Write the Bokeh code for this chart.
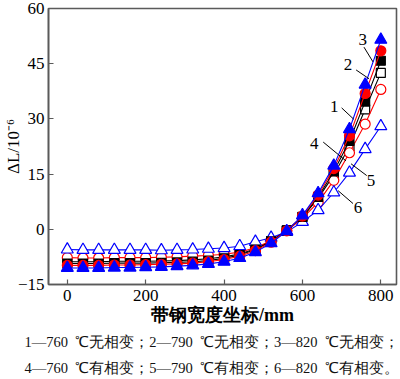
from bokeh.plotting import figure
from bokeh.embed import file_html
from bokeh.resources import INLINE
from bokeh.models import FixedTicker, Range1d, Title
from bokeh.core.properties import value

x_vals = [0, 40, 80, 120, 160, 200, 240, 280, 320, 360, 400,
          440, 480, 520, 560, 600, 640, 680, 720, 760, 800]

s1_760_none = [-9.3, -9.3, -9.3, -9.2, -9.2, -9.2, -9.1, -9.0, -8.8, -8.5, -7.9,
               -7.0, -5.5, -3.3, -0.3, 3.4, 8.8, 15.7, 24.0, 34.7, 45.8]
s2_790_none = [-9.8, -9.8, -9.8, -9.7, -9.7, -9.6, -9.5, -9.4, -9.2, -8.8, -8.2,
               -7.3, -5.8, -3.5, -0.4, 3.6, 9.3, 16.5, 25.4, 36.9, 48.5]
s3_820_none = [-10.5, -10.5, -10.5, -10.4, -10.4, -10.3, -10.2, -10.0, -9.8, -9.4, -8.8,
               -7.8, -6.2, -3.8, -0.5, 3.8, 9.8, 17.3, 27.2, 39.3, 51.5]
s4_760_phase = [-8.8, -8.8, -8.8, -8.7, -8.7, -8.7, -8.6, -8.5, -8.3, -8.0, -7.5,
                -6.7, -5.3, -3.2, -0.3, 3.3, 8.4, 14.8, 22.5, 32.6, 42.5]
s5_790_phase = [-7.7, -7.8, -7.8, -7.7, -7.7, -7.7, -7.6, -7.5, -7.3, -7.1, -6.8,
                -6.2, -5.0, -3.1, -0.4, 3.0, 7.3, 13.3, 20.8, 28.6, 38.0]
s6_820_phase = [-5.5, -5.6, -5.6, -5.6, -5.6, -5.6, -5.7, -5.6, -5.5, -5.3, -5.1,
                -4.6, -3.4, -2.3, -0.7, 2.0, 5.2, 10.0, 15.4, 21.8, 28.0]

x_ticks = [0, 200, 400, 600, 800]
y_ticks = [-15, 0, 15, 30, 45, 60]

curve_labels = ["1", "2", "3", "4", "5", "6"]
label_x = [681, 716, 754, 630, 775, 742]
label_y = [33.4, 44.9, 51.7, 23.4, 13.2, 6.0]
leader_x0 = [700, 737, 757, 653, 764, 729]
leader_y0 = [33.0, 43.3, 49.5, 23.7, 14.6, 7.0]
leader_x1 = [731, 770, 780, 711, 724, 691]
leader_y1 = [29.9, 40.9, 45.5, 18.6, 17.8, 10.5]

caption_1 = "1—760\u2002℃无相变；2—790\u2002℃无相变；3—820\u2002℃无相变；"
caption_2 = "4—760\u2002℃有相变；5—790\u2002℃有相变；6—820\u2002℃有相变。"

SERIF = "Liberation Serif"
FRAME = "#5a5a5a"

W, H = 400, 379
x0, x1 = -48, 840
y0, y1 = -15, 60

p = figure(width=W, height=H, output_backend="svg", toolbar_location=None,
           x_range=Range1d(x0, x1), y_range=Range1d(y0, y1),
           min_border_left=46, min_border_right=4,
           min_border_top=8, min_border_bottom=0)
p.grid.visible = False
p.outline_line_color = FRAME
p.outline_line_width = 1.6
p.background_fill_color = "white"
p.border_fill_color = "white"

for ax in (p.xaxis[0], p.yaxis[0]):
    ax.axis_line_color = FRAME
    ax.axis_line_width = 1.6
    ax.major_tick_line_color = FRAME
    ax.major_tick_line_width = 1.2
    ax.major_tick_in = 5
    ax.major_tick_out = 0
    ax.minor_tick_line_color = None
    ax.major_label_text_font = SERIF
    ax.major_label_text_font_size = "17px"
    ax.major_label_text_color = "black"

p.xaxis.ticker = FixedTicker(ticks=x_ticks)
p.yaxis.ticker = FixedTicker(ticks=y_ticks)
p.yaxis.major_label_overrides = {t: (str(t).replace("-", "\u2212")) for t in y_ticks}
p.xaxis.major_label_standoff = 5
p.yaxis.major_label_standoff = 4

p.xaxis.axis_label = "带钢宽度坐标/mm"
p.xaxis.axis_label_text_font = SERIF
p.xaxis.axis_label_text_font_style = "bold"
p.xaxis.axis_label_text_font_size = "18px"
p.xaxis.axis_label_standoff = 1
p.xaxis.axis_label_text_color = "black"

p.yaxis.axis_label = "ΔL/10⁻⁶"
p.yaxis.axis_label_text_font = SERIF
p.yaxis.axis_label_text_font_style = "normal"
p.yaxis.axis_label_text_font_size = "17px"
p.yaxis.axis_label_standoff = -8
p.yaxis.axis_label_text_color = "black"

BLUE, RED, BLACK = "#0000ff", "#ff0000", "#000000"

series = [
    (s4_760_phase, BLACK, "square", 9, False),
    (s5_790_phase, RED, "circle", 10, False),
    (s6_820_phase, BLUE, "triangle", 12, False),
    (s1_760_none, BLACK, "square", 9, True),
    (s2_790_none, RED, "circle", 10, True),
    (s3_820_none, BLUE, "triangle", 12, True),
]
for ys, col, mk, sz, filled in series:
    p.line(x_vals, ys, line_color=col, line_width=1.1)
    p.scatter(x_vals, ys, marker=mk, size=sz, line_color=col, line_width=1.2,
              fill_color=col if filled else "white")

p.segment(x0=leader_x0, y0=leader_y0, x1=leader_x1, y1=leader_y1,
          line_color="black", line_width=1)
p.text(x=label_x, y=label_y, text=curve_labels, text_font=value(SERIF),
       text_font_size="17px", text_align="center", text_baseline="middle",
       text_color="black")

for txt in (caption_1, caption_2):
    p.add_layout(Title(text=txt, align="left", offset=-24, text_font=SERIF,
                       text_font_size="14.5px", text_font_style="normal",
                       text_color="#111111", standoff=8), "below")

open("out.html", "w").write(file_html(p, INLINE))
